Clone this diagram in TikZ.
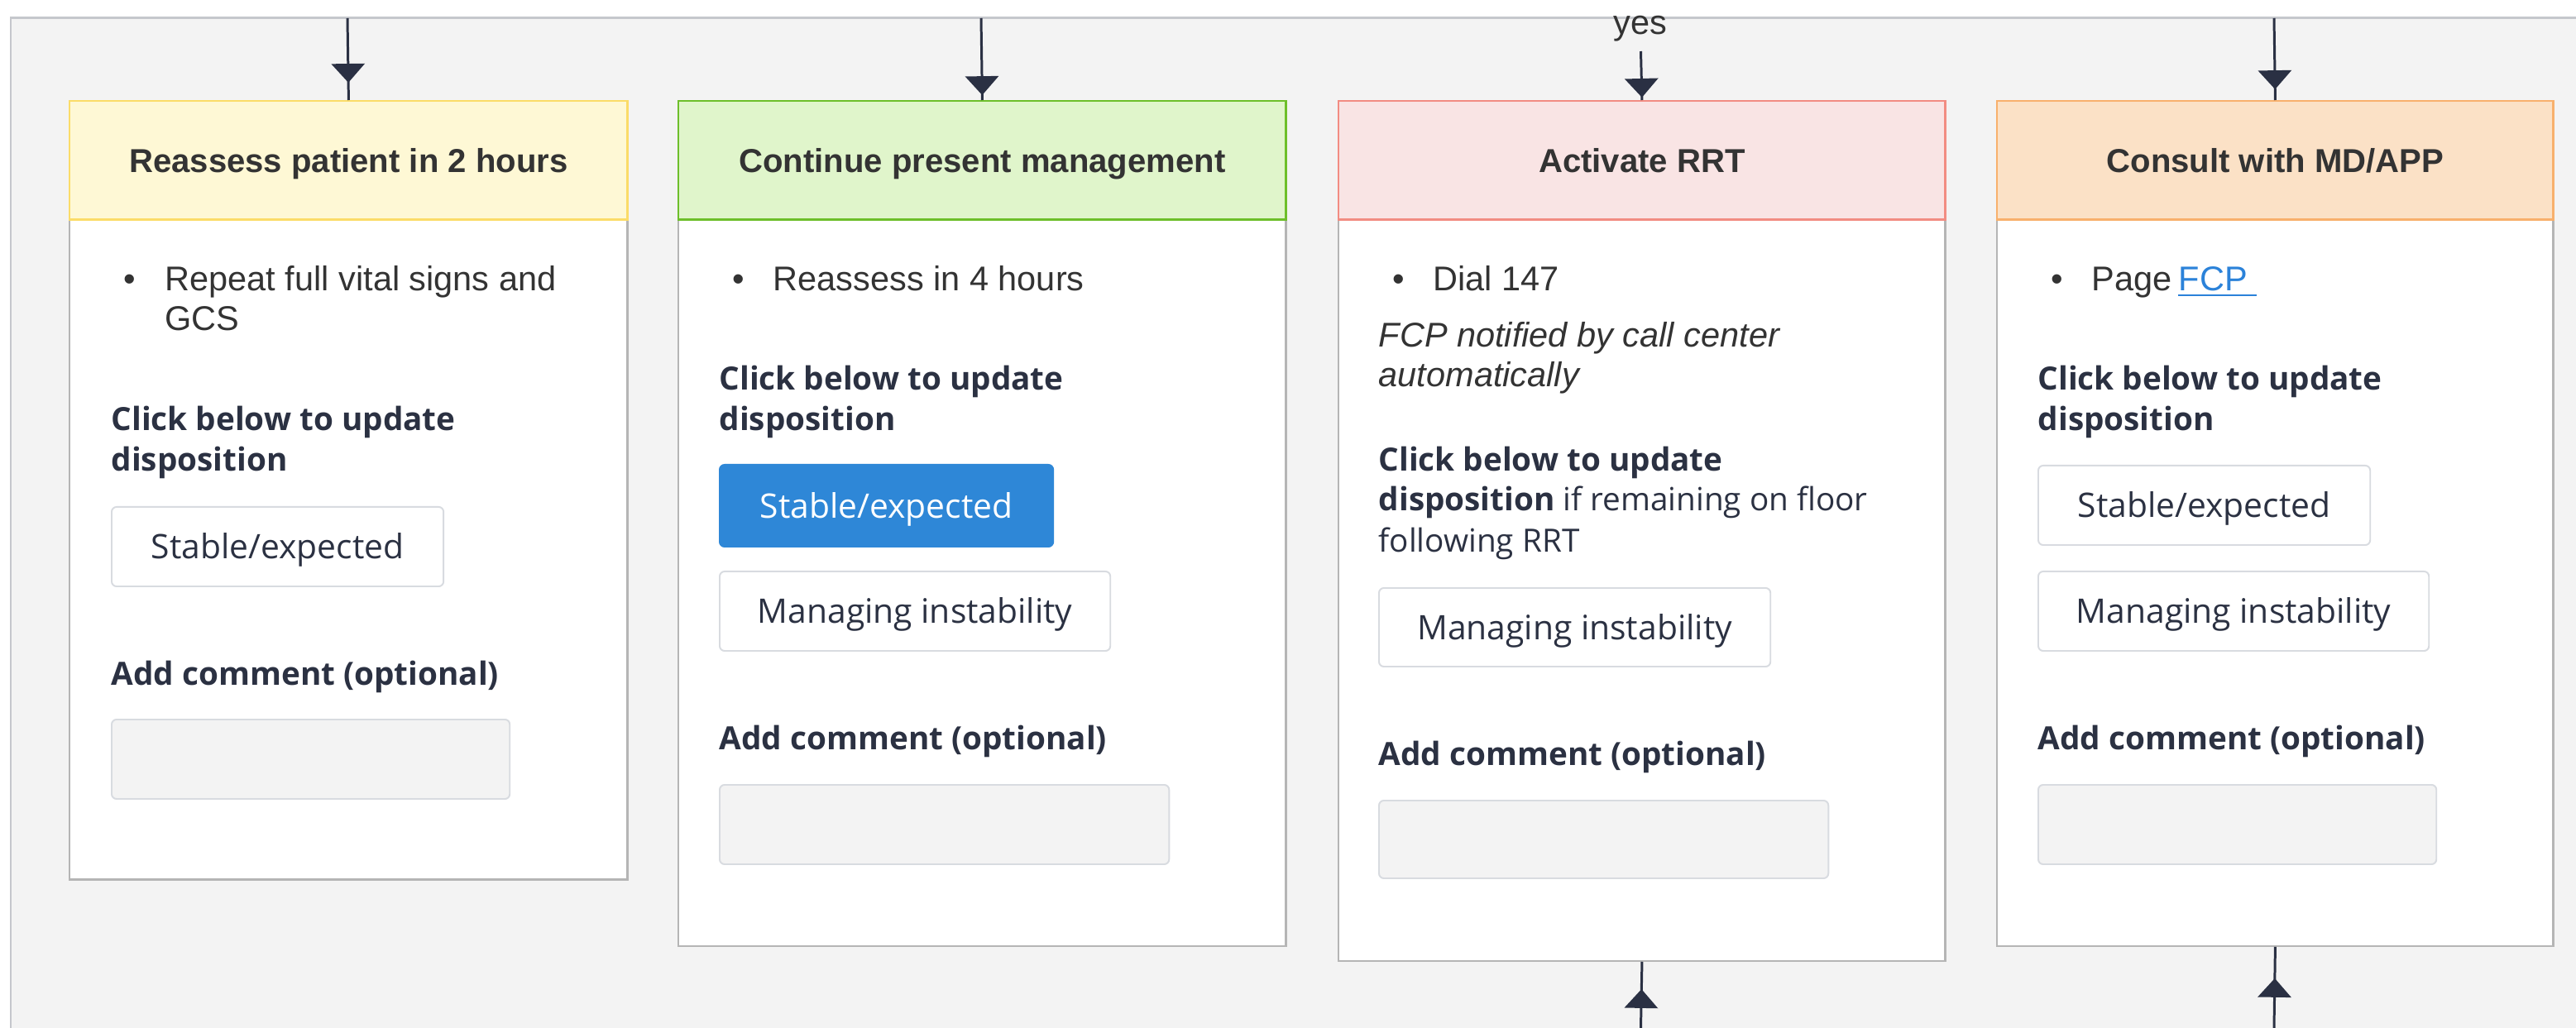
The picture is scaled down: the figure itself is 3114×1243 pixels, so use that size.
\documentclass[tikz,border=0pt]{standalone}
\usepackage{fontspec}
\setmainfont{Liberation Sans}
\newfontfamily\uifont{Open Sans}
\usetikzlibrary{arrows.meta,decorations.markings}
\definecolor{ink}{HTML}{2B3142}
\definecolor{bodytext}{HTML}{333333}
\definecolor{arrowc}{HTML}{2A3043}
\definecolor{pagebg}{HTML}{F3F3F3}
\definecolor{frameline}{HTML}{C5C7CC}
\definecolor{cardline}{HTML}{B5B5B5}
\definecolor{btnline}{HTML}{D8DBE0}
\definecolor{cmtfill}{HTML}{F3F3F3}
\definecolor{btnblue}{HTML}{2E87D7}
\definecolor{linkblue}{HTML}{2B82D9}
\definecolor{yelfill}{HTML}{FEF8D5}
\definecolor{yelline}{HTML}{FBDC68}
\definecolor{grnfill}{HTML}{E0F5CB}
\definecolor{grnline}{HTML}{6DBF2A}
\definecolor{redfill}{HTML}{F9E4E4}
\definecolor{redline}{HTML}{F28C82}
\definecolor{orgfill}{HTML}{FBE1C6}
\definecolor{orgline}{HTML}{F8B06C}
\begin{document}
\begin{tikzpicture}[x=0.01cm,y=-0.01cm,
hd/.style={draw,line width=0.7pt,anchor=north west,inner sep=0pt,minimum height=1.43cm,
  text height=8.2pt,text depth=0pt,text=bodytext,font=\fontsize{11.4}{13}\selectfont\bfseries},
card/.style={draw=cardline,fill=white,line width=0.7pt,anchor=north west,inner sep=0pt},
txt/.style={anchor=base west,inner sep=0pt,text=bodytext,font=\fontsize{11.8}{14}\selectfont},
lbl/.style={anchor=base west,inner sep=0pt,text=ink,font=\uifont\fontsize{11}{14}\selectfont\bfseries},
btn/.style={draw=btnline,fill=white,line width=0.55pt,rounded corners=1.7pt,anchor=north west,
  inner sep=0pt,minimum height=0.96cm,text height=8.3pt,text depth=0pt,text=ink,
  font=\uifont\fontsize{11.6}{14}\selectfont},
cmt/.style={draw=btnline,fill=cmtfill,line width=0.55pt,rounded corners=1.7pt,anchor=north west,
  inner sep=0pt,minimum height=0.96cm},
flow/.style={draw=arrowc,color=arrowc,line width=0.85pt},
tipat/.style={postaction={decorate,decoration={markings,
  mark=at position #1 with {\arrow{Triangle[width=11.4pt,length=6.5pt]}}}}}]
\useasboundingbox (0,0) rectangle (3114,1243);
\fill[white] (0,0) rectangle (3114,1243);
\fill[pagebg] (13,22) rectangle (3114,1243);
\draw[frameline,line width=0.85pt] (13,1243) -- (13,22) -- (3114,22);

\node[card,minimum width=6.74cm,minimum height=7.98cm] (cd1) at (83,264) {};
\node[hd,fill=yelfill,draw=yelline,minimum width=6.74cm] (hd1) at (83,121) {Reassess patient in 2 hours};
\node[txt] (bu1) at (149,352) {•};
\node[txt] (rep1) at (199,352) {Repeat full vital signs and};
\node[txt] (rep2) at (199,400) {GCS};
\node[lbl] (clk1) at (134,521) {Click below to update};
\node[lbl] (dsp1) at (134,570) {disposition};
\node[btn,minimum width=4.01cm] (st1) at (134,612) {Stable/expected};
\node[lbl] (add1) at (134,828) {Add comment (optional)};
\node[cmt,minimum width=4.81cm] (cm1) at (134,869) {};

\node[card,minimum width=7.34cm,minimum height=8.78cm] (cd2) at (819,264) {};
\node[hd,fill=grnfill,draw=grnline,minimum width=7.34cm] (hd2) at (819,121) {Continue present management};
\node[txt] (bu2) at (885,352) {•};
\node[txt] (rea2) at (934,352) {Reassess in 4 hours};
\node[lbl] (clk2) at (869,472) {Click below to update};
\node[lbl] (dsp2) at (869,521) {disposition};
\node[btn,fill=btnblue,draw=btnblue,text=white,minimum width=4.03cm,minimum height=0.99cm] (st2) at (869,561) {Stable/expected};
\node[btn,minimum width=4.72cm] (mi2) at (869,690) {Managing instability};
\node[lbl] (add2) at (869,906) {Add comment (optional)};
\node[cmt,minimum width=5.43cm] (cm2) at (869,948) {};

\node[card,minimum width=7.33cm,minimum height=8.96cm] (cd3) at (1617,264) {};
\node[hd,fill=redfill,draw=redline,minimum width=7.33cm] (hd3) at (1617,121) {Activate RRT};
\node[txt] (bu3) at (1683,352) {•};
\node[txt] (dia3) at (1732,352) {Dial 147};
\node[txt,font=\fontsize{11.8}{14}\selectfont\itshape] (fcp3) at (1666,420) {FCP notified by call center};
\node[txt,font=\fontsize{11.8}{14}\selectfont\itshape] (aut3) at (1666,468) {automatically};
\node[lbl] (clk3) at (1666,570) {Click below to update};
\node[lbl] (dsp3) at (1666,618) {disposition\mdseries\ if remaining on floor};
\node[lbl,font=\uifont\fontsize{11}{14}\selectfont] (fol3) at (1666,667) {following RRT};
\node[btn,minimum width=4.73cm,minimum height=0.95cm] (mi3) at (1666,710) {Managing instability};
\node[lbl] (add3) at (1666,925) {Add comment (optional)};
\node[cmt,minimum width=5.43cm,minimum height=0.94cm] (cm3) at (1666,967) {};

\node[card,minimum width=6.72cm,minimum height=8.78cm] (cd4) at (2413,264) {};
\node[hd,fill=orgfill,draw=orgline,minimum width=6.72cm] (hd4) at (2413,121) {Consult with MD/APP};
\node[txt] (bu4) at (2479,352) {•};
\node[txt] (pag4) at (2528,352) {Page};
\node[txt,text=linkblue] (lnk4) at (2633,352) {FCP\kern3pt};
\draw[linkblue,line width=0.55pt] ([yshift=-1.5pt]lnk4.base west) -- ([yshift=-1.5pt]lnk4.base east);
\node[lbl] (clk4) at (2463,472) {Click below to update};
\node[lbl] (dsp4) at (2463,521) {disposition};
\node[btn,minimum width=4.01cm] (st4) at (2463,562) {Stable/expected};
\node[btn,minimum width=4.72cm] (mi4) at (2463,690) {Managing instability};
\node[lbl] (add4) at (2463,906) {Add comment (optional)};
\node[cmt,minimum width=4.81cm] (cm4) at (2463,948) {};

\node[txt,anchor=center] (yes) at (1983,35) {yes};
\coordinate (in1) at (420,22);
\coordinate (in2) at (1186,22);
\coordinate (in3) at (1983.5,62);
\coordinate (in4) at (2749,22);
\coordinate (up3) at (1983.5,1243);
\coordinate (up4) at (2749,1243);
\draw[flow,tipat=-6pt] (in1) -- (hd1.north);
\draw[flow,tipat=-1.7pt] (in2) -- (hd2.north);
\draw[flow,tipat=-0.9pt] (in3) -- (hd3.north);
\draw[flow,tipat=-3.7pt] (in4) -- (hd4.north);
\draw[flow,tipat=-9.4pt] (up3) -- (cd3.south);
\draw[flow,tipat=-10.8pt] (up4) -- (cd4.south);
\end{tikzpicture}
\end{document}
